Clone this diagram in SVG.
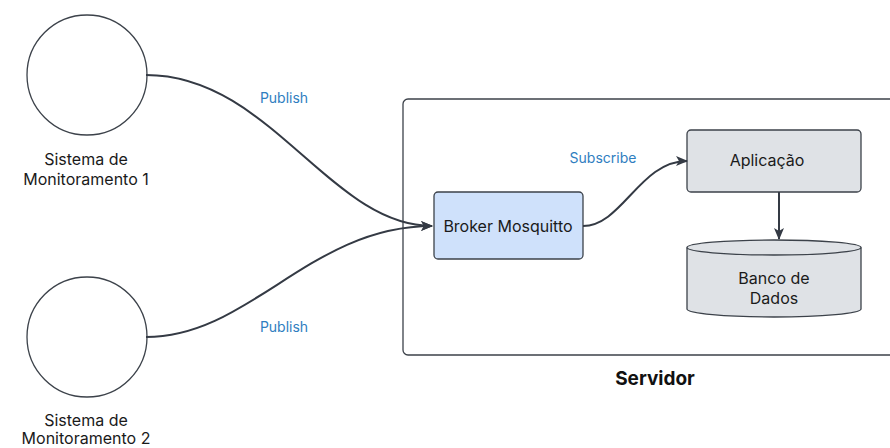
<svg xmlns="http://www.w3.org/2000/svg" width="890" height="448" viewBox="0 0 890 448">
<style>
  .lbl { font-family: Inter, "Liberation Sans", sans-serif; font-size: 16px; fill: #1a1a1a; text-anchor: middle; }
  .edge-lbl { font-family: Inter, "Liberation Sans", sans-serif; font-size: 14px; fill: #2f7ebf; text-anchor: middle; }
  .title { font-family: Inter, "Liberation Sans", sans-serif; font-size: 19px; font-weight: bold; fill: #111; text-anchor: middle; }
  .edge { fill: none; stroke: #343a44; stroke-width: 2; }
  .shape { stroke: #3c424a; stroke-width: 1.3; }
</style>
<defs>
  <marker id="arr" viewBox="0 0 12 10" refX="11" refY="5" markerWidth="12" markerHeight="10" markerUnits="userSpaceOnUse" orient="auto">
    <path d="M0,0 L12,5 L0,10 L3,5 Z" fill="#343a44"/>
  </marker>
</defs>
<rect width="890" height="448" fill="#ffffff"/>
<g id="servidor">
  <rect x="403" y="99" width="500" height="256" rx="5" fill="none" class="shape"/>
  <text class="title" x="655" y="385">Servidor</text>
</g>
<g id="sistema1">
  <circle cx="87" cy="75" r="60" fill="#ffffff" class="shape"/>
  <text class="lbl" x="86" y="165">Sistema de</text>
  <text class="lbl" x="86" y="185">Monitoramento 1</text>
</g>
<g id="sistema2">
  <circle cx="87" cy="337" r="60" fill="#ffffff" class="shape"/>
  <text class="lbl" x="86" y="426">Sistema de</text>
  <text class="lbl" x="86" y="444">Monitoramento 2</text>
</g>
<g id="broker">
  <rect x="434" y="192" width="149" height="67" rx="4" fill="#cfe1fb" class="shape"/>
  <text class="lbl" x="508" y="232">Broker Mosquitto</text>
</g>
<g id="aplicacao">
  <rect x="687" y="130" width="174" height="62" rx="4" fill="#dfe2e6" class="shape"/>
  <text class="lbl" x="767" y="166">Aplicação</text>
</g>
<g id="banco">
  <path d="M687,247.5 L687,309 A87,8 0 0 0 861,309 L861,247.5 A87,7.5 0 0 0 687,247.5 Z" fill="#dfe2e6" class="shape"/>
  <path d="M687,247.5 A87,7.5 0 0 0 861,247.5" fill="none" class="shape"/>
  <text class="lbl" x="774" y="284">Banco de</text>
  <text class="lbl" x="774" y="304">Dados</text>
</g>
<g id="connectors">
  <path class="edge" d="M146,75 C270,75 330,226 432,226" marker-end="url(#arr)"/>
  <path class="edge" d="M146,337 C250,337 310,226 432,226" marker-end="url(#arr)"/>
  <path class="edge" d="M583,226 C622,226 640,161 687,161" marker-end="url(#arr)"/>
  <path class="edge" d="M779,192 L779,239" marker-end="url(#arr)"/>
  <text class="edge-lbl" x="284" y="103">Publish</text>
  <text class="edge-lbl" x="284" y="332">Publish</text>
  <text class="edge-lbl" x="603" y="163">Subscribe</text>
</g>
</svg>
